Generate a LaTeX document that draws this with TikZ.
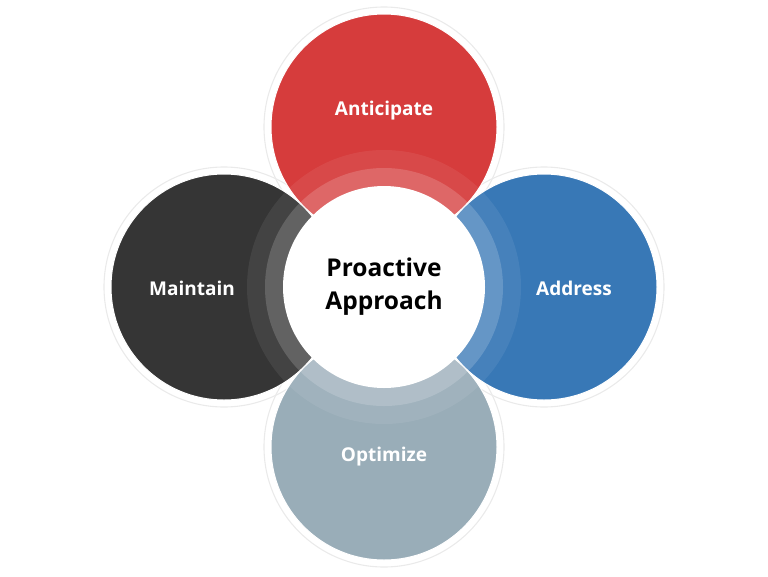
\documentclass[tikz,border=0pt]{standalone}
\usepackage{fontspec}
\setmainfont{Open Sans}[Ligatures=NoCommon]
\usetikzlibrary{positioning}
\definecolor{Crimson}{HTML}{D63C3C}
\definecolor{Ocean}{HTML}{3878B6}
\definecolor{Charcoal}{HTML}{353535}
\definecolor{Slate}{HTML}{99ADB8}
\definecolor{Halo}{HTML}{EAEAEA}
\tikzset{
    petal/.style={circle, minimum size=226pt, inner sep=0pt, draw=white, line width=1pt},
    halo/.style={draw=Halo, line width=1.1pt},
    petaltext/.style={text=white, font=\bfseries\fontsize{19}{22}\selectfont},
    coretext/.style={text=black, align=center, font=\bfseries\fontsize{24.5}{33}\selectfont},
    band/.style={fill=white},
}

\begin{document}
\begin{tikzpicture}[x=1pt, y=-1pt]
    \useasboundingbox (0,0) rectangle (768,576);
    % Aloni
    \foreach \p in {(384,127), (224,287), (544,287), (384,447)} {
        \draw[halo] \p circle (120);
    }
    % Petali
    \node[petal, fill=Crimson] (anticipate) at (384,127) {};
    \node[petal, fill=Charcoal] (maintain) at (224,287) {};
    \node[petal, fill=Ocean] (address) at (544,287) {};
    \node[petal, fill=Slate] (optimize) at (384,447) {};

    % Anelli
    \fill[band, opacity=0.07] (384,287) circle (137);
    \fill[band, opacity=0.17] (384,287) circle (119);
    \node[circle, fill=white, minimum size=202pt, inner sep=0pt] (core) at (384,287) {};

    % Etichette
    \node[petaltext] (anticipatetext) at (384,111) {Anticipate};
    \node[petaltext] (maintaintext) at (192,288) {Maintain};
    \node[petaltext] (addresstext) at (574,288) {Address};
    \node[petaltext] (optimizetext) at (384,457) {Optimize};
    \node[coretext] (coretitle) at (core.center) {Proactive\\Approach};
\end{tikzpicture}
\end{document}
